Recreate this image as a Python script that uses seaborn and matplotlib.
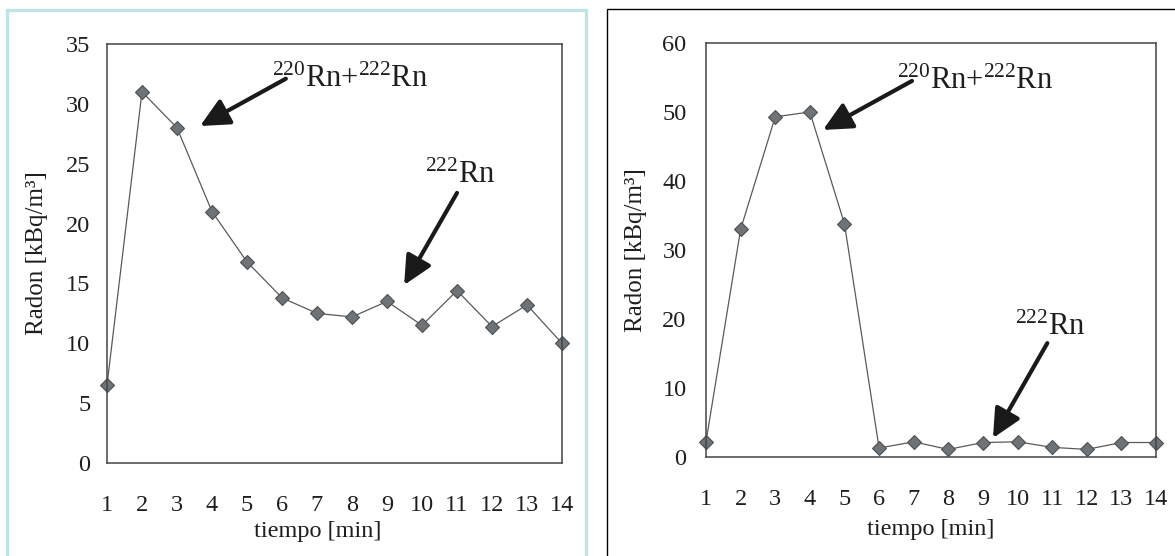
import matplotlib
matplotlib.use("Agg")
import matplotlib.pyplot as plt
from matplotlib.patches import Rectangle
import seaborn as sns
import pandas as pd

# ---- data ----
tiempo = list(range(1, 15))
radon_izq = [6.5, 31.0, 28.0, 21.0, 16.8, 13.8, 12.5, 12.2, 13.5, 11.5, 14.4, 11.4, 13.2, 10.0]
radon_der = [2.2, 33.0, 49.3, 50.0, 33.8, 1.3, 2.2, 1.1, 2.1, 2.2, 1.4, 1.1, 2.1, 2.1]
yticks_izq = [0, 5, 10, 15, 20, 25, 30, 35]
yticks_der = [0, 10, 20, 30, 40, 50, 60]
xlabel = "tiempo [min]"
ylabel = "Radon [kBq/m³]"
label_mix = r"$^{220}$Rn+$^{222}$Rn"
label_222 = r"$^{222}$Rn"

sns.set_theme(style="white")
plt.rcParams["font.family"] = ["Liberation Serif", "DejaVu Serif"]
plt.rcParams["mathtext.fontset"] = "custom"
plt.rcParams["mathtext.rm"] = "Liberation Serif"
plt.rcParams["mathtext.it"] = "Liberation Serif:italic"
plt.rcParams["mathtext.bf"] = "Liberation Serif:bold"

W, H = 1175, 556
fig = plt.figure(figsize=(W / 100, H / 100), dpi=100)
fig.patch.set_facecolor("white")

# panel frames
fig.patches.append(Rectangle((7 / W, -0.05), (586 - 7) / W, (556 - 10) / H + 0.05,
                             transform=fig.transFigure, fill=False,
                             edgecolor="#bfe3e6", linewidth=2.4, zorder=0))
fig.patches.append(Rectangle((607 / W, -0.05), 0.6, (556 - 9) / H + 0.05,
                             transform=fig.transFigure, fill=False,
                             edgecolor="black", linewidth=1.0, zorder=0))


def px_axes(x0, x1, ytop, ybot):
    return fig.add_axes([x0 / W, (H - ybot) / H, (x1 - x0) / W, (ybot - ytop) / H])


ax1 = px_axes(107, 562, 44, 463)
ax2 = px_axes(706, 1156, 43, 457)

text_col = "#1e1e1e"
arrow_kw = dict(arrowstyle="-|>,head_length=0.7,head_width=0.34", lw=3.0,
                color="#1a1a1a", mutation_scale=25, shrinkA=0, shrinkB=0)


def style_axes(ax, yvals, ylim, ypad, xpad, xlab_pos, ylab_pos):
    ax.set_xlim(1, 14)
    ax.set_ylim(*ylim)
    ax.set_xticks(tiempo)
    ax.set_xticklabels([str(t) for t in tiempo])
    ax.set_yticks(yvals)
    ax.set_yticklabels([str(v) for v in yvals])
    ax.tick_params(axis="x", length=0, pad=xpad, labelsize=17.5, labelcolor=text_col)
    ax.tick_params(axis="y", length=0, pad=ypad, labelsize=17.5, labelcolor=text_col)
    for s in ax.spines.values():
        s.set_visible(True)
        s.set_color("#444444")
        s.set_linewidth(1.1)
    ax.set_xlabel(xlabel, fontsize=17.5, color=text_col)
    ax.set_ylabel(ylabel, fontsize=18, color=text_col)
    ax.xaxis.set_label_coords(*xlab_pos)
    ax.yaxis.set_label_coords(*ylab_pos)
    ax.set_facecolor("white")


line_kw = dict(marker="D", markersize=7, color="#5a5a5a", linewidth=0.9,
               markerfacecolor="#6d7377", markeredgecolor="#4b5054",
               markeredgewidth=0.8)

df1 = pd.DataFrame({"tiempo": tiempo, "radon": radon_izq})
df2 = pd.DataFrame({"tiempo": tiempo, "radon": radon_der})
sns.lineplot(data=df1, x="tiempo", y="radon", ax=ax1, clip_on=False, **line_kw)
sns.lineplot(data=df2, x="tiempo", y="radon", ax=ax2, clip_on=False, **line_kw)

style_axes(ax1, yticks_izq, (0, 35), 12, 23, (0.464, -0.138), (-0.13, 0.5))
style_axes(ax2, yticks_der, (0, 60), 14, 23, (0.5, -0.15), (-0.131, 0.5))

# annotations left
ax1.text(7.94, 31.4, label_mix, fontsize=22, ha="center", va="baseline", color=text_col)
ax1.annotate("", xy=(3.66, 28.15), xytext=(6.11, 32.1), arrowprops=arrow_kw)
ax1.text(11.09, 23.4, label_222, fontsize=22, ha="center", va="baseline", color=text_col)
ax1.annotate("", xy=(9.49, 14.87), xytext=(11.0, 22.56), arrowprops=arrow_kw)

# annotations right
ax2.text(8.77, 53.3, label_mix, fontsize=22, ha="center", va="baseline", color=text_col)
ax2.annotate("", xy=(4.38, 47.4), xytext=(6.95, 54.5), arrowprops=arrow_kw)
ax2.text(10.94, 17.7, label_222, fontsize=22, ha="center", va="baseline", color=text_col)
ax2.annotate("", xy=(9.29, 2.75), xytext=(10.86, 16.5), arrowprops=arrow_kw)

fig.savefig("out.png", dpi=100, facecolor="white")
